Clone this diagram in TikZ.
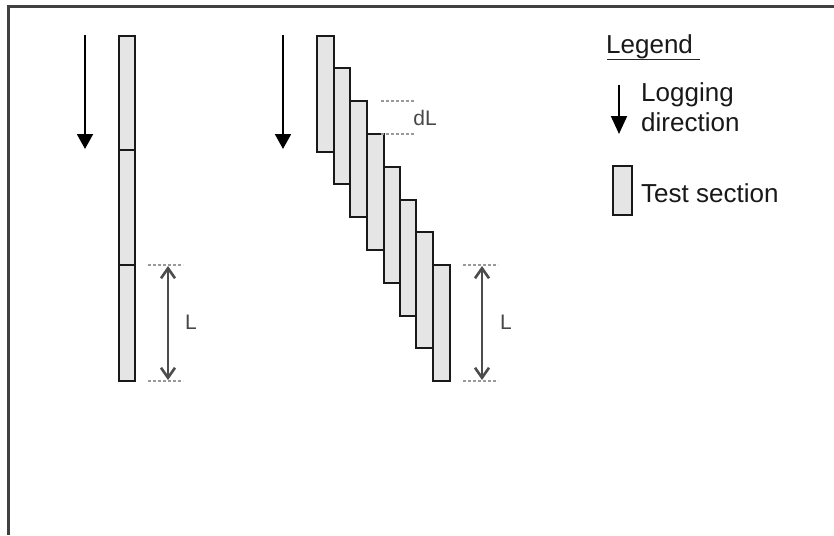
\documentclass[tikz,border=0pt]{standalone}
\usepackage{fontspec}
\setmainfont{Liberation Sans}
\usetikzlibrary{arrows.meta}
\begin{document}
\begin{tikzpicture}[x=1pt,y=-1pt,
  sect/.style={draw=black!90,line width=2.4pt,fill=black!10},
  logarrow/.style={line width=2pt,-{Triangle[length=15pt,width=16pt]}},
  dimarrow/.style={line width=2.6pt,draw=black!70,{Straight Barb[length=10pt,width=14pt,line width=2.6pt]}-{Straight Barb[length=10pt,width=14pt,line width=2.6pt]}},
  guide/.style={draw=black!40,line width=1.2pt,dash pattern=on 3pt off 2pt},
  lbl/.style={font=\fontsize{21}{24}\selectfont,text=black!72,inner sep=0pt},
  legtxt/.style={font=\fontsize{26}{30}\selectfont,text=black!90,inner sep=0pt,anchor=west,align=left}]
\useasboundingbox (0,0) rectangle (834,535);
\fill[white] (0,0) rectangle (834,535);
% frame
\draw[black!75,line width=2.8pt] (8.5,535) -- (8.5,6.5) -- (834,6.5);
% left column
\foreach \i/\a/\b in {1/36/150,2/150/265,3/265/381}
  \draw[sect] (119,\a) rectangle (135,\b);
% staircase
\foreach \xa/\xb/\ya in {317/334/36,334/350/68,350/367/101,367/384/134,384/400/167,400/416/200,416/433/232,433/450/265}
  \draw[sect] (\xa,\ya) rectangle (\xb,\ya+116);
% logging arrows
\coordinate (a1s) at (85,35); \coordinate (a1e) at (85,149);
\coordinate (a2s) at (283,35); \coordinate (a2e) at (283,149);
\draw[logarrow] (a1s) -- (a1e);
\draw[logarrow] (a2s) -- (a2e);
% dL
\draw[guide] (381,101) -- (414,101);
\draw[guide] (381,134) -- (414,134);
\node[lbl] (dl) at (425,118) {dL};
% L dimensions
\draw[guide] (148,265) -- (183,265);
\draw[guide] (148,381) -- (183,381);
\coordinate (l1t) at (168,266); \coordinate (l1b) at (168,380);
\draw[dimarrow] (l1t) -- (l1b);
\node[lbl] (L1) at (191,322) {L};
\draw[guide] (463,265) -- (498,265);
\draw[guide] (463,381) -- (498,381);
\coordinate (l2t) at (482,266); \coordinate (l2b) at (482,380);
\draw[dimarrow] (l2t) -- (l2b);
\node[lbl] (L2) at (506,322) {L};
% legend
\node[legtxt] (leg) at (606,47) {Legend};
\draw[black!85,line width=1.6pt] (607,59.5) -- (700,59.5);
\coordinate (la1) at (619,85); \coordinate (la2) at (619,134);
\draw[line width=2pt,-{Triangle[length=18pt,width=16pt]}] (la1) -- (la2);
\node[legtxt] (logtxt) at (641,107) {Logging\\direction};
\draw[sect] (613,166) rectangle (632,215);
\node[legtxt] (testtxt) at (641,193) {Test section};
\end{tikzpicture}
\end{document}
